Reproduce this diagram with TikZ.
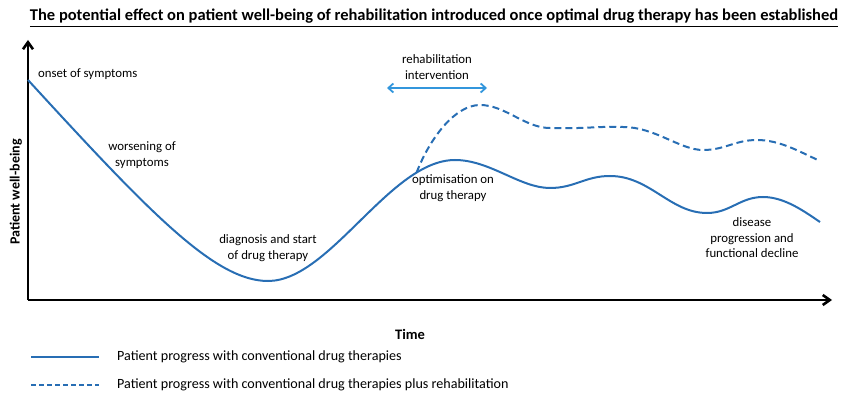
\documentclass[tikz,border=0pt]{standalone}
\usepackage{fontspec}
\setmainfont{Carlito}
\usetikzlibrary{arrows.meta}
\definecolor{curveblue}{RGB}{40,110,180}
\definecolor{arrowblue}{RGB}{50,150,220}
\tikzset{
  axis/.style={line width=2.6pt, -{Straight Barb[length=7pt,width=10pt]}},
  lbl/.style={align=center, inner sep=0pt, font=\fontsize{12.8}{15.5}\selectfont},
  curve/.style={curveblue, line width=2pt},
  dcurve/.style={curveblue, line width=2pt, dash pattern=on 7pt off 4pt},
  legtxt/.style={anchor=west, inner sep=0pt, font=\fontsize{14.1}{16}\selectfont},
}
\begin{document}
\begin{tikzpicture}[x=1pt,y=-1pt]
\useasboundingbox (0,0) rectangle (843,395);
% title
\node[inner sep=0pt] (title) at (434,18) {\resizebox{808pt}{!}{\bfseries\underline{The potential effect on patient well-being of rehabilitation introduced once optimal drug therapy has been established}}};
% axes
\coordinate (O) at (28,300);
\coordinate (ytop) at (28,40);
\coordinate (xend) at (832,300);
\draw[axis] (O) -- (ytop);
\draw[axis] (O) -- (xend);
\node[rotate=90, inner sep=0pt, font=\bfseries\fontsize{14}{16}\selectfont] (ylab) at (16,192) {Patient well-being};
\node[inner sep=0pt, font=\bfseries\fontsize{14.5}{16}\selectfont] (xlab) at (410,334) {Time};
% solid curve
\coordinate (s0) at (28,80);
\coordinate (s1) at (268,281);
\coordinate (s2) at (455,160);
\coordinate (s3) at (550,188);
\coordinate (s4) at (610,176);
\coordinate (s5) at (707,213);
\coordinate (s6) at (763,197);
\coordinate (s7) at (820,222);
\draw[curve] (s0) .. controls (150,213) and (215,281) .. (s1)
  .. controls (330,281) and (390,160) .. coordinate[pos=0.8] (br) (s2)
  .. controls (490,160) and (520,188) .. (s3)
  .. controls (575,188) and (585,176) .. (s4)
  .. controls (650,176) and (670,213) .. (s5)
  .. controls (730,213) and (740,197) .. (s6)
  .. controls (785,197) and (805,212) .. (s7);
% dashed curve
\coordinate (d1) at (480,105);
\coordinate (d2) at (550,128);
\coordinate (d3) at (623,127);
\coordinate (d4) at (703,150);
\coordinate (d5) at (757,140);
\coordinate (d6) at (820,161);
\draw[dcurve] (br) .. controls (430,138) and (455,105) .. (d1)
  .. controls (505,105) and (525,128) .. (d2)
  .. controls (585,129) and (600,126) .. (d3)
  .. controls (655,127) and (680,150) .. (d4)
  .. controls (725,150) and (735,140) .. (d5)
  .. controls (780,140) and (800,152) .. (d6);
% rehab arrow
\coordinate (ra) at (387,88);
\coordinate (rb) at (487,88);
\draw[arrowblue, line width=1.8pt, {Straight Barb[length=5pt,width=9pt]}-{Straight Barb[length=5pt,width=9pt]}] (ra) -- (rb);
\node[lbl] (rehab) at (437,67) {rehabilitation\\intervention};
% labels
\node[lbl, anchor=west] (onset) at (38,74) {onset of symptoms};
\node[lbl] (worse) at (142,155) {worsening of\\symptoms};
\node[lbl] (diag) at (268,248) {diagnosis and start\\of drug therapy};
\node[lbl] (optim) at (453,188) {optimisation on\\drug therapy};
\node[lbl] (disease) at (752,238) {disease\\progression and\\functional decline};
% legend
\coordinate (l1a) at (31,357);
\coordinate (l1b) at (99,357);
\coordinate (l2a) at (31,385);
\coordinate (l2b) at (99,385);
\draw[curve] (l1a) -- (l1b);
\draw[curveblue, line width=2pt, dash pattern=on 5pt off 3pt] (l2a) -- (l2b);
\node[legtxt] (leg1) at (117,357) {Patient progress with conventional drug therapies};
\node[legtxt] (leg2) at (117,385) {Patient progress with conventional drug therapies plus rehabilitation};
\end{tikzpicture}
\end{document}
